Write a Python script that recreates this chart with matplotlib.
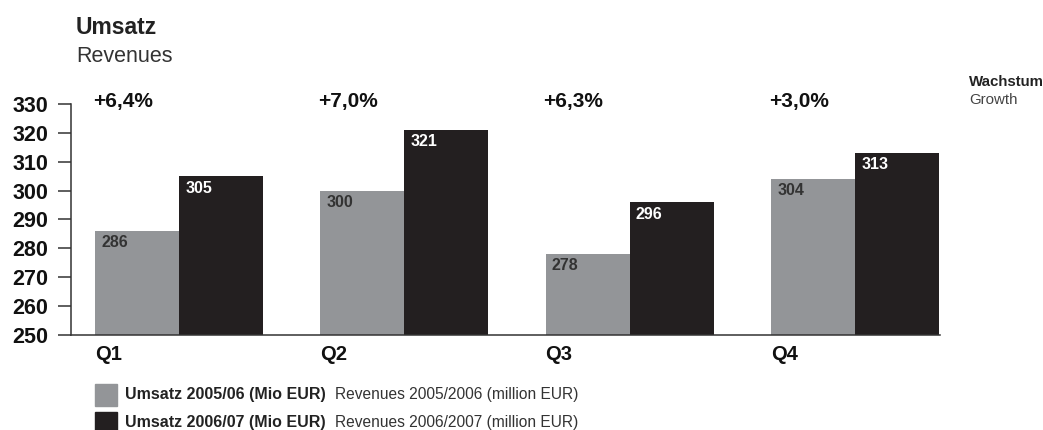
import matplotlib.pyplot as plt
from matplotlib.patches import Rectangle
import numpy as np

plt.rcParams['font.family'] = ['Liberation Sans', 'DejaVu Sans']

quarters = ["Q1", "Q2", "Q3", "Q4"]
rev_0506 = [286, 300, 278, 304]
rev_0607 = [305, 321, 296, 313]
growth = ["+6,4%", "+7,0%", "+6,3%", "+3,0%"]
yticks = [250, 260, 270, 280, 290, 300, 310, 320, 330]

gray = "#939598"
black = "#231f20"

fig = plt.figure(figsize=(10.43, 4.3), dpi=100)
ax = fig.add_axes([71 / 1043, 1 - 335 / 430, (940 - 71) / 1043, (335 - 104) / 430])

x = np.arange(len(quarters))
w = 0.373
ax.bar(x - w / 2, np.array(rev_0506) - 250, w, bottom=250, color=gray)
ax.bar(x + w / 2, np.array(rev_0607) - 250, w, bottom=250, color=black)

ax.set_xlim(-0.479, 3.377)
ax.set_ylim(250, 330)
ax.set_yticks(yticks)
ax.set_yticklabels([str(t) for t in yticks], fontsize=15.5, fontweight="bold", color="#111111")
ax.tick_params(axis="y", length=9.5, width=1.1, color="#333333", pad=7)
ax.set_xticks([])
for s in ["top", "right"]:
    ax.spines[s].set_visible(False)
for s in ["left", "bottom"]:
    ax.spines[s].set_color("#333333")
    ax.spines[s].set_linewidth(1.1)

for i in range(len(quarters)):
    # value labels inside bars
    ax.text(x[i] - w + 0.028, rev_0506[i] - 4.1, str(rev_0506[i]), ha="left", va="center",
            fontsize=11.5, fontweight="bold", color="#333333")
    ax.text(x[i] + 0.028, rev_0607[i] - 4.1, str(rev_0607[i]), ha="left", va="center",
            fontsize=11.5, fontweight="bold", color="white")
    # growth labels at top
    ax.text(x[i] - w - 0.01, 331, growth[i], ha="left", va="center",
            fontsize=15, fontweight="bold", color="#111111")
    # quarter labels below
    ax.text(x[i] - w, 243.1, quarters[i], ha="left", va="center",
            fontsize=14.5, fontweight="bold", color="#111111")

# title
fig.text(76 / 1043, 1 - 27 / 430, "Umsatz", fontsize=16.5, fontweight="bold", color="#222222", va="center")
fig.text(76 / 1043, 1 - 57 / 430, "Revenues", fontsize=15.5, color="#333333", va="center")

# growth header
fig.text(969 / 1043, 1 - 82 / 430, "Wachstum", fontsize=10.8, fontweight="bold", color="#222222", va="center")
fig.text(969 / 1043, 1 - 100 / 430, "Growth", fontsize=10.8, color="#444444", va="center")

# legend
legend_items = [
    (gray, "Umsatz 2005/06 (Mio EUR)", "Revenues 2005/2006 (million EUR)"),
    (black, "Umsatz 2006/07 (Mio EUR)", "Revenues 2006/2007 (million EUR)"),
]
for j, (c, bold_txt, norm_txt) in enumerate(legend_items):
    yc = 395 + j * 28
    fig.patches.append(Rectangle((95 / 1043, 1 - (yc + 11) / 430), 22 / 1043, 22 / 430,
                                 transform=fig.transFigure, color=c))
    fig.text(125 / 1043, 1 - yc / 430, bold_txt, fontsize=11.5, fontweight="bold",
             color="#222222", va="center")
    fig.text(335 / 1043, 1 - yc / 430, norm_txt, fontsize=11.2, color="#333333", va="center")

plt.savefig("out.png", dpi=100)
